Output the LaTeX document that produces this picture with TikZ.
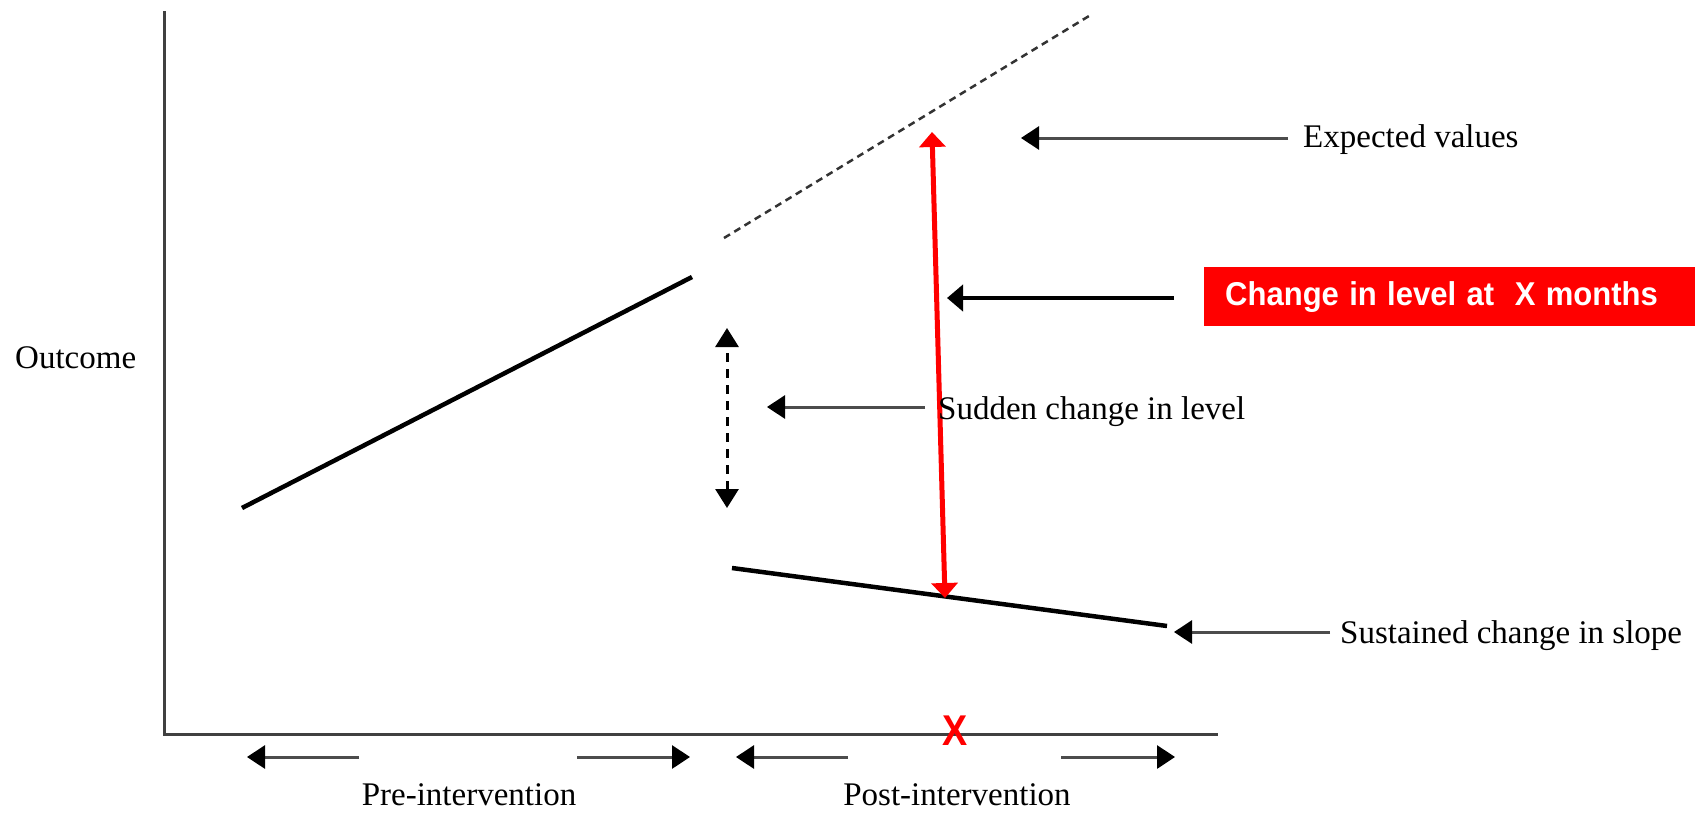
\documentclass[tikz,border=0pt]{standalone}
\usepackage{fontspec}
\setmainfont{Liberation Serif}
\newfontfamily\boxfont{Liberation Sans}
\usetikzlibrary{arrows.meta}
\begin{document}
\begin{tikzpicture}[x=1pt,y=-1pt,
  lbl/.style={font=\fontsize{33}{40}\selectfont, inner sep=0pt},
  axisline/.style={line width=3pt, draw=black!75},
  trend/.style={line width=4.5pt, draw=black},
  ptr/.style={line width=3pt, draw=black!70, -{Triangle[length=18pt,width=23pt,color=black]}},
  bigptr/.style={line width=4.5pt, draw=black, -{Triangle[length=16pt,width=26pt]}},
  redarrow/.style={line width=5pt, draw=red, {Triangle[length=15pt,width=26pt]}-{Triangle[length=15pt,width=26pt]}},
  levelarrow/.style={line width=3pt, draw=black, dash pattern=on 9pt off 7pt, {Triangle[length=19pt,width=23pt]}-{Triangle[length=19pt,width=23pt]}},
  expline/.style={line width=2.5pt, draw=black!80, dash pattern=on 7pt off 5pt}
]
\useasboundingbox (0,0) rectangle (1695,814);

% axes
\coordinate (ytop) at (164,11);
\coordinate (origin) at (164,734);
\coordinate (xend) at (1218,734);
\draw[axisline] (ytop) -- (origin) -- (xend);

% trend lines
\coordinate (preA) at (242,508);
\coordinate (preB) at (692,277);
\coordinate (expA) at (724,238);
\coordinate (expB) at (1089,16);
\coordinate (postA) at (732,568);
\coordinate (postB) at (1167,626);
\draw[trend] (preA) -- (preB);
\draw[expline] (expA) -- (expB);
\draw[trend] (postA) -- (postB);

% red change arrow
\coordinate (redTop) at (932,132);
\coordinate (redBot) at (945,598);
\draw[redarrow] (redBot) -- (redTop);

% dashed sudden-change arrow
\coordinate (lvTop) at (727,328);
\coordinate (lvBot) at (727,508);
\draw[levelarrow] (lvBot) -- (lvTop);

% labels
\node[lbl, anchor=base west] (outcome) at (15,368) {Outcome};
\node[lbl, anchor=base west] (expected) at (1303,147) {Expected values};
\node[lbl, anchor=base west] (sudden) at (938,419) {Sudden change in level};
\node[lbl, anchor=base west] (sustained) at (1340,643) {Sustained change in slope};
\node[lbl, anchor=base] (pre) at (469,805) {Pre-intervention};
\node[lbl, anchor=base] (post) at (957,805) {Post-intervention};

\node[fill=red, text=white, anchor=north west, minimum height=59pt,
      text width=449pt, inner xsep=21pt, inner ysep=0pt, align=left,
      font=\boxfont\bfseries\fontsize{33}{38}\selectfont] (changebox) at (1204,267)
      {\scalebox{0.94}[1]{Change in level at\ \ X months}};

\node[text=red, inner sep=0pt, font=\boxfont\bfseries\fontsize{41}{41}\selectfont] (xmark) at (955,731) {\scalebox{0.92}[1.05]{X}};

% pointer arrows
\coordinate (expTail) at (1288,138);
\coordinate (expTip) at (1021,138);
\draw[ptr] (expTail) -- (expTip);

\coordinate (sudTail) at (925,407);
\coordinate (sudTip) at (767,407);
\draw[ptr] (sudTail) -- (sudTip);

\coordinate (susTail) at (1330,632);
\coordinate (susTip) at (1174,632);
\draw[ptr] (susTail) -- (susTip);

\coordinate (chTail) at (1174,298);
\coordinate (chTip) at (947,298);
\draw[bigptr] (chTail) -- (chTip);

% time-period arrows
\coordinate (pa1) at (359,757); \coordinate (pa2) at (247,757);
\coordinate (pb1) at (577,757); \coordinate (pb2) at (690,757);
\coordinate (qa1) at (848,757); \coordinate (qa2) at (736,757);
\coordinate (qb1) at (1061,757); \coordinate (qb2) at (1175,757);
\draw[ptr] (pa1) -- (pa2);
\draw[ptr] (pb1) -- (pb2);
\draw[ptr] (qa1) -- (qa2);
\draw[ptr] (qb1) -- (qb2);
\end{tikzpicture}
\end{document}
